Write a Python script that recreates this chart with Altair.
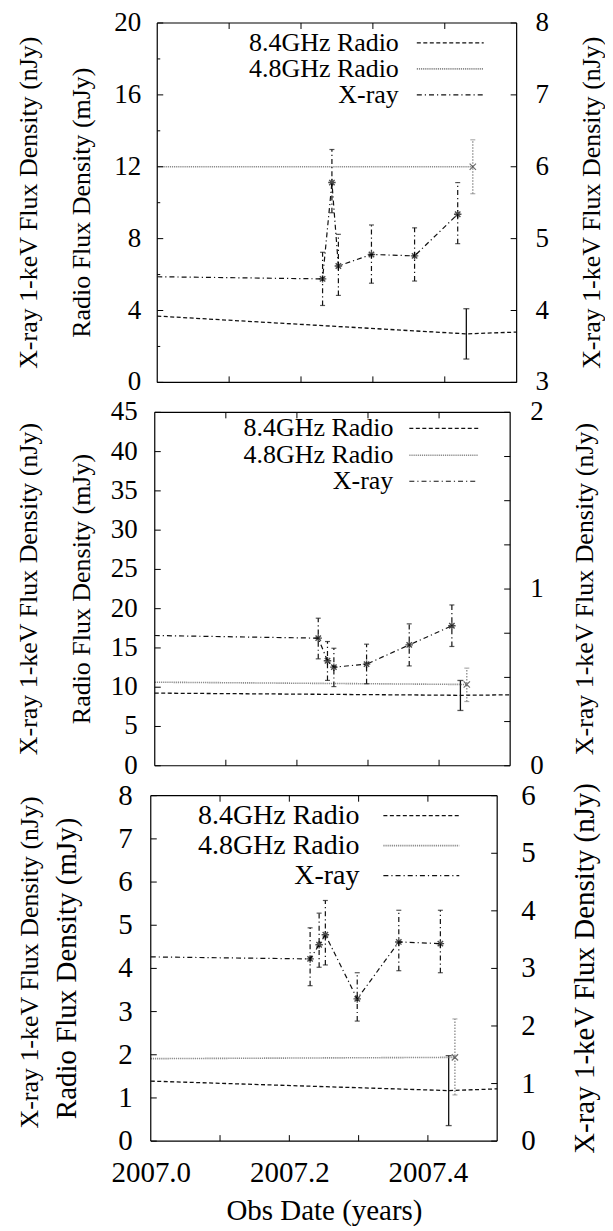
import altair as alt
import pandas as pd

FONT = "Liberation Serif, Times New Roman, Times, serif"

# ---------------- data ----------------
x_domain = [2007.0, 2007.5]
x_tick_labels = [2007.0, 2007.2, 2007.4]
x_tick_marks = [2007.1, 2007.2, 2007.3, 2007.4]

xray_dates = [2007.230, 2007.243, 2007.252, 2007.298, 2007.358, 2007.418]
line_start_date = 2007.0
line_end_date = 2007.5
r84_date = 2007.430
r48_date = 2007.439

legend_names = ["8.4GHz Radio", "4.8GHz Radio", "X-ray"]

# Panel 1
p1_left_ticks = [0, 4, 8, 12, 16, 20]
p1_left_minor = [2, 6, 10, 14, 18]
p1_right_ticks = [3, 4, 5, 6, 7, 8]
p1_right_labels = [3, 4, 5, 6, 7, 8]
p1_xray_start = 4.47
p1_xray = [4.44, 5.78, 4.62, 4.78, 4.76, 5.34]
p1_xray_lo = [4.07, 5.36, 4.21, 4.38, 4.41, 4.93]
p1_xray_hi = [4.81, 6.24, 5.06, 5.19, 5.15, 5.78]
p1_r84_start, p1_r84, p1_r84_end = 3.69, 2.70, 2.80
p1_r84_lo, p1_r84_hi = 1.30, 4.10
p1_r48_start, p1_r48 = 12.0, 12.0
p1_r48_lo, p1_r48_hi = 10.5, 13.5

# Panel 2
p2_left_ticks = [0, 5, 10, 15, 20, 25, 30, 35, 40, 45]
p2_left_minor = []
p2_right_ticks = [0, 0.25, 0.5, 0.75, 1, 1.25, 1.5, 1.75, 2]
p2_right_labels = [0, 1, 2]
p2_xray_start = 0.737
p2_xray = [0.722, 0.594, 0.558, 0.575, 0.684, 0.792]
p2_xray_lo = [0.605, 0.483, 0.448, 0.464, 0.565, 0.675]
p2_xray_hi = [0.835, 0.703, 0.665, 0.688, 0.803, 0.910]
p2_r84_start, p2_r84, p2_r84_end = 9.25, 8.97, 9.03
p2_r84_lo, p2_r84_hi = 7.04, 10.86
p2_r48_start, p2_r48 = 10.64, 10.35
p2_r48_lo, p2_r48_hi = 8.18, 12.43

# Panel 3
p3_left_ticks = [0, 1, 2, 3, 4, 5, 6, 7, 8]
p3_left_minor = []
p3_right_ticks = [0, 1, 2, 3, 4, 5, 6]
p3_right_labels = [0, 1, 2, 3, 4, 5, 6]
p3_xray_start = 3.20
p3_xray = [3.165, 3.41, 3.585, 2.47, 3.46, 3.43]
p3_xray_lo = [2.70, 3.02, 3.06, 2.085, 2.96, 2.925]
p3_xray_hi = [3.705, 3.96, 4.18, 2.925, 4.01, 4.01]
p3_r84_start, p3_r84, p3_r84_end = 1.39, 1.17, 1.21
p3_r84_lo, p3_r84_hi = 0.36, 1.98
p3_r48_start, p3_r48 = 1.91, 1.94
p3_r48_lo, p3_r48_hi = 1.07, 2.83

Y_LEFT_TITLE = "Radio Flux Density (mJy)"
Y_XRAY_TITLE = "X-ray 1-keV Flux Density (nJy)"
X_TITLE = "Obs Date (years)"

ASTERISK = "M-1,0L1,0M0,-1L0,1M-0.72,-0.72L0.72,0.72M-0.72,0.72L0.72,-0.72"
CROSS = "M-1,-1L1,1M-1,1L1,-1"

DASH_84 = [4, 2.5]
DASH_48 = [1.2, 0.9]
DASH_XR = [5, 3, 1.2, 3]
GRAY = "#8a8a8a"
BLACK = "#111111"


def panel(cfg, bottom):
    w, h, off = cfg["w"], cfg["h"], cfg["off"]
    W = off + w
    xs = alt.Scale(domain=x_domain, nice=False, zero=False, range=[off, off + w])
    ls = alt.Scale(domain=cfg["left_dom"], nice=False, zero=False)
    rs = alt.Scale(domain=cfg["right_dom"], nice=False, zero=False)

    if bottom:
        xaxis = alt.Axis(values=x_tick_labels, format=".1f", title=X_TITLE,
                         labelFont=FONT, labelFontSize=29, titleFont=FONT,
                         titleFontSize=29, titleFontWeight="normal",
                         labelColor="black", titleColor="black",
                         labelFlush=False, labelOverlap=False,
                         ticks=False, tickSize=0, domain=False, grid=False,
                         labelPadding=17, titlePadding=10)
    else:
        xaxis = None

    def X(f):
        return alt.X(f, type="quantitative", scale=xs, axis=xaxis)

    def YL(f):
        return alt.Y(f, type="quantitative", scale=ls, axis=None)

    def YR(f):
        return alt.Y(f, type="quantitative", scale=rs, axis=None)

    r84 = pd.DataFrame({"d": [line_start_date, r84_date, line_end_date],
                        "v": [cfg["r84_start"], cfg["r84"], cfg["r84_end"]]})
    r84e = pd.DataFrame({"d": [r84_date], "lo": [cfg["r84_lo"]], "hi": [cfg["r84_hi"]]})
    r48 = pd.DataFrame({"d": [line_start_date, r48_date],
                        "v": [cfg["r48_start"], cfg["r48"]]})
    r48e = pd.DataFrame({"d": [r48_date], "v": [cfg["r48"]],
                         "lo": [cfg["r48_lo"]], "hi": [cfg["r48_hi"]]})
    xr_line = pd.DataFrame({"d": [line_start_date] + xray_dates,
                            "v": [cfg["xray_start"]] + cfg["xray"]})
    xr = pd.DataFrame({"d": xray_dates, "v": cfg["xray"],
                       "lo": cfg["xray_lo"], "hi": cfg["xray_hi"]})
    lt = pd.DataFrame({"v": cfg["left_ticks"], "t": [str(v) for v in cfg["left_ticks"]]})
    rl = pd.DataFrame({"v": cfg["right_labels"], "t": [str(v) for v in cfg["right_labels"]]})
    lfs = cfg["lab_fs"]

    # ---- left-scale (radio) group ----
    layers_left = [
        alt.Chart(r84).mark_line(color=BLACK, strokeWidth=1.3, strokeDash=DASH_84).encode(
            x=X("d"), y=YL("v")),
        alt.Chart(r84e).mark_rule(color=BLACK, strokeWidth=1.3).encode(
            x=X("d"), y=YL("lo"), y2="hi:Q"),
        alt.Chart(r84e).mark_tick(orient="horizontal", color=BLACK, size=6, thickness=1.3).encode(
            x=X("d"), y=YL("lo")),
        alt.Chart(r84e).mark_tick(orient="horizontal", color=BLACK, size=6, thickness=1.3).encode(
            x=X("d"), y=YL("hi")),
        alt.Chart(r48).mark_line(color=GRAY, strokeWidth=1.6, strokeDash=DASH_48).encode(
            x=X("d"), y=YL("v")),
        alt.Chart(r48e).mark_rule(color=GRAY, strokeWidth=1.3, strokeDash=[1.5, 1.5]).encode(
            x=X("d"), y=YL("lo"), y2="hi:Q"),
        alt.Chart(r48e).mark_tick(orient="horizontal", color=GRAY, size=5, thickness=1.2).encode(
            x=X("d"), y=YL("lo")),
        alt.Chart(r48e).mark_tick(orient="horizontal", color=GRAY, size=5, thickness=1.2).encode(
            x=X("d"), y=YL("hi")),
        alt.Chart(r48e).mark_point(shape=CROSS, size=40, filled=False, color="#333333", strokeWidth=1.2).encode(
            x=X("d"), y=YL("v")),
        # left ticks and tick labels
        alt.Chart(lt).mark_rule(color="black", strokeWidth=1).encode(
            y=YL("v"), x=alt.value(off), x2=alt.value(off + 6)),
        alt.Chart(lt).mark_text(font=FONT, fontSize=lfs, align="right", baseline="middle",
                                color="black").encode(
            y=YL("v"), x=alt.value(off - cfg["lpad"]), text="t:N"),
    ]
    if cfg["left_minor"]:
        layers_left.append(alt.Chart(pd.DataFrame({"v": cfg["left_minor"]})).mark_rule(
            color="black", strokeWidth=1).encode(y=YL("v"), x=alt.value(off), x2=alt.value(off + 3)))
    xt = pd.DataFrame({"d": x_tick_marks})
    layers_left.append(alt.Chart(xt).mark_rule(color="black", strokeWidth=1).encode(
        x=X("d"), y=alt.value(h - 6), y2=alt.value(h)))
    layers_left.append(alt.Chart(xt).mark_rule(color="black", strokeWidth=1).encode(
        x=X("d"), y=alt.value(0), y2=alt.value(6)))

    one = pd.DataFrame({"k": [0]})
    # frame
    layers_left.append(alt.Chart(one).mark_rule(color="black", strokeWidth=1.2).encode(
        x=alt.value(off), y=alt.value(0), y2=alt.value(h)))
    layers_left.append(alt.Chart(one).mark_rule(color="black", strokeWidth=1.2).encode(
        x=alt.value(W), y=alt.value(0), y2=alt.value(h)))
    layers_left.append(alt.Chart(one).mark_rule(color="black", strokeWidth=1.2).encode(
        x=alt.value(off), x2=alt.value(W), y=alt.value(0)))
    layers_left.append(alt.Chart(one).mark_rule(color="black", strokeWidth=1.2).encode(
        x=alt.value(off), x2=alt.value(W), y=alt.value(h)))

    # legend
    lg = cfg["legend"]
    styles = [dict(color=BLACK, strokeDash=DASH_84, strokeWidth=1.3),
              dict(color=GRAY, strokeDash=DASH_48, strokeWidth=1.6),
              dict(color=BLACK, strokeDash=DASH_XR, strokeWidth=1.2)]
    for i, name in enumerate(legend_names):
        yy = lg["rows"][i]
        layers_left.append(alt.Chart(one).mark_text(
            text=name, font=FONT, fontSize=lg["fs"], align="right", baseline="middle", color="black").encode(
            x=alt.value(W + lg["text_x"]), y=alt.value(yy)))
        layers_left.append(alt.Chart(one).mark_rule(**styles[i]).encode(
            x=alt.value(W + lg["s0"]), x2=alt.value(W + lg["s1"]), y=alt.value(yy)))

    # titles
    layers_left.append(alt.Chart(one).mark_text(
        text=Y_XRAY_TITLE, font=FONT, fontSize=cfg["outer_fs"], angle=270,
        align="center", baseline="middle", color="black").encode(
        x=alt.value(off + cfg["outer_x"]), y=alt.value(h / 2 + cfg.get("outer_dy", 0))))
    layers_left.append(alt.Chart(one).mark_text(
        text=Y_LEFT_TITLE, font=FONT, fontSize=cfg["inner_fs"], angle=270,
        align="center", baseline="middle", color="black").encode(
        x=alt.value(off + cfg["inner_x"]), y=alt.value(h / 2)))
    layers_left.append(alt.Chart(one).mark_text(
        text=Y_XRAY_TITLE, font=FONT, fontSize=cfg["right_fs"], angle=270,
        align="center", baseline="middle", color="black").encode(
        x=alt.value(W + cfg["right_x"]), y=alt.value(h / 2)))

    left_group = alt.layer(*layers_left)

    # ---- right-scale (X-ray) group ----
    right_group = alt.layer(
        alt.Chart(xr_line).mark_line(color=BLACK, strokeWidth=1.2, strokeDash=DASH_XR).encode(
            x=X("d"), y=YR("v")),
        alt.Chart(xr).mark_rule(color=BLACK, strokeWidth=1.2, strokeDash=DASH_XR).encode(
            x=X("d"), y=YR("lo"), y2="hi:Q"),
        alt.Chart(xr).mark_tick(orient="horizontal", color=BLACK, size=5, thickness=1.2).encode(
            x=X("d"), y=YR("lo")),
        alt.Chart(xr).mark_tick(orient="horizontal", color=BLACK, size=5, thickness=1.2).encode(
            x=X("d"), y=YR("hi")),
        alt.Chart(xr).mark_point(shape=ASTERISK, size=56, filled=False, color="black", strokeWidth=1.4).encode(
            x=X("d"), y=YR("v")),
        alt.Chart(pd.DataFrame({"v": cfg["right_ticks"]})).mark_rule(color="black", strokeWidth=1).encode(
            y=YR("v"), x=alt.value(W - 6), x2=alt.value(W)),
        alt.Chart(rl).mark_text(font=FONT, fontSize=lfs, align="left", baseline="middle",
                                color="black").encode(
            y=YR("v"), x=alt.value(W + cfg["rpad"]), text="t:N"),
    )

    return alt.layer(left_group, right_group).resolve_scale(y="independent").properties(
        width=W, height=h)


cfg1 = dict(w=360, h=360, off=6.5, left_dom=[0, 20], right_dom=[3, 8],
            left_ticks=p1_left_ticks, left_minor=p1_left_minor,
            right_ticks=p1_right_ticks, right_labels=p1_right_labels,
            xray_start=p1_xray_start, xray=p1_xray, xray_lo=p1_xray_lo, xray_hi=p1_xray_hi,
            r84_start=p1_r84_start, r84=p1_r84, r84_end=p1_r84_end, r84_lo=p1_r84_lo, r84_hi=p1_r84_hi,
            r48_start=p1_r48_start, r48=p1_r48, r48_lo=p1_r48_lo, r48_hi=p1_r48_hi,
            lab_fs=27, lpad=16, rpad=19,
            legend=dict(fs=26, text_x=-118, s0=-100, s1=-33, rows=[20, 46, 72]),
            outer_x=-128, outer_fs=26, inner_x=-75, inner_fs=26, right_x=75, right_fs=26)
cfg2 = dict(w=356, h=354, off=4, left_dom=[0, 45], right_dom=[0, 2],
            left_ticks=p2_left_ticks, left_minor=p2_left_minor,
            right_ticks=p2_right_ticks, right_labels=p2_right_labels,
            xray_start=p2_xray_start, xray=p2_xray, xray_lo=p2_xray_lo, xray_hi=p2_xray_hi,
            r84_start=p2_r84_start, r84=p2_r84, r84_end=p2_r84_end, r84_lo=p2_r84_lo, r84_hi=p2_r84_hi,
            r48_start=p2_r48_start, r48=p2_r48, r48_lo=p2_r48_lo, r48_hi=p2_r48_hi,
            lab_fs=27, lpad=17, rpad=20,
            legend=dict(fs=26, text_x=-117, s0=-101, s1=-32, rows=[16, 43, 69]),
            outer_x=-126, outer_fs=26, inner_x=-73, inner_fs=26, right_x=75, right_fs=26)
cfg3 = dict(w=347, h=346, off=0, left_dom=[0, 8], right_dom=[0, 6],
            left_ticks=p3_left_ticks, left_minor=p3_left_minor,
            right_ticks=p3_right_ticks, right_labels=p3_right_labels,
            xray_start=p3_xray_start, xray=p3_xray, xray_lo=p3_xray_lo, xray_hi=p3_xray_hi,
            r84_start=p3_r84_start, r84=p3_r84, r84_end=p3_r84_end, r84_lo=p3_r84_lo, r84_hi=p3_r84_hi,
            r48_start=p3_r48_start, r48=p3_r48, r48_lo=p3_r48_lo, r48_hi=p3_r48_hi,
            lab_fs=29, lpad=18, rpad=24,
            legend=dict(fs=28, text_x=-138, s0=-114, s1=-38, rows=[20, 50, 80]),
            outer_x=-121, outer_fs=26, outer_dy=-6, inner_x=-84, inner_fs=29, right_x=88, right_fs=29)

chart = alt.vconcat(panel(cfg1, False), panel(cfg2, False), panel(cfg3, True), spacing=3).properties(
    padding={"left": 8, "top": 0, "right": 0, "bottom": 0}, background="white"
).configure_view(stroke=None)

chart.save("out.html", embed_options={"renderer": "svg", "actions": False})
